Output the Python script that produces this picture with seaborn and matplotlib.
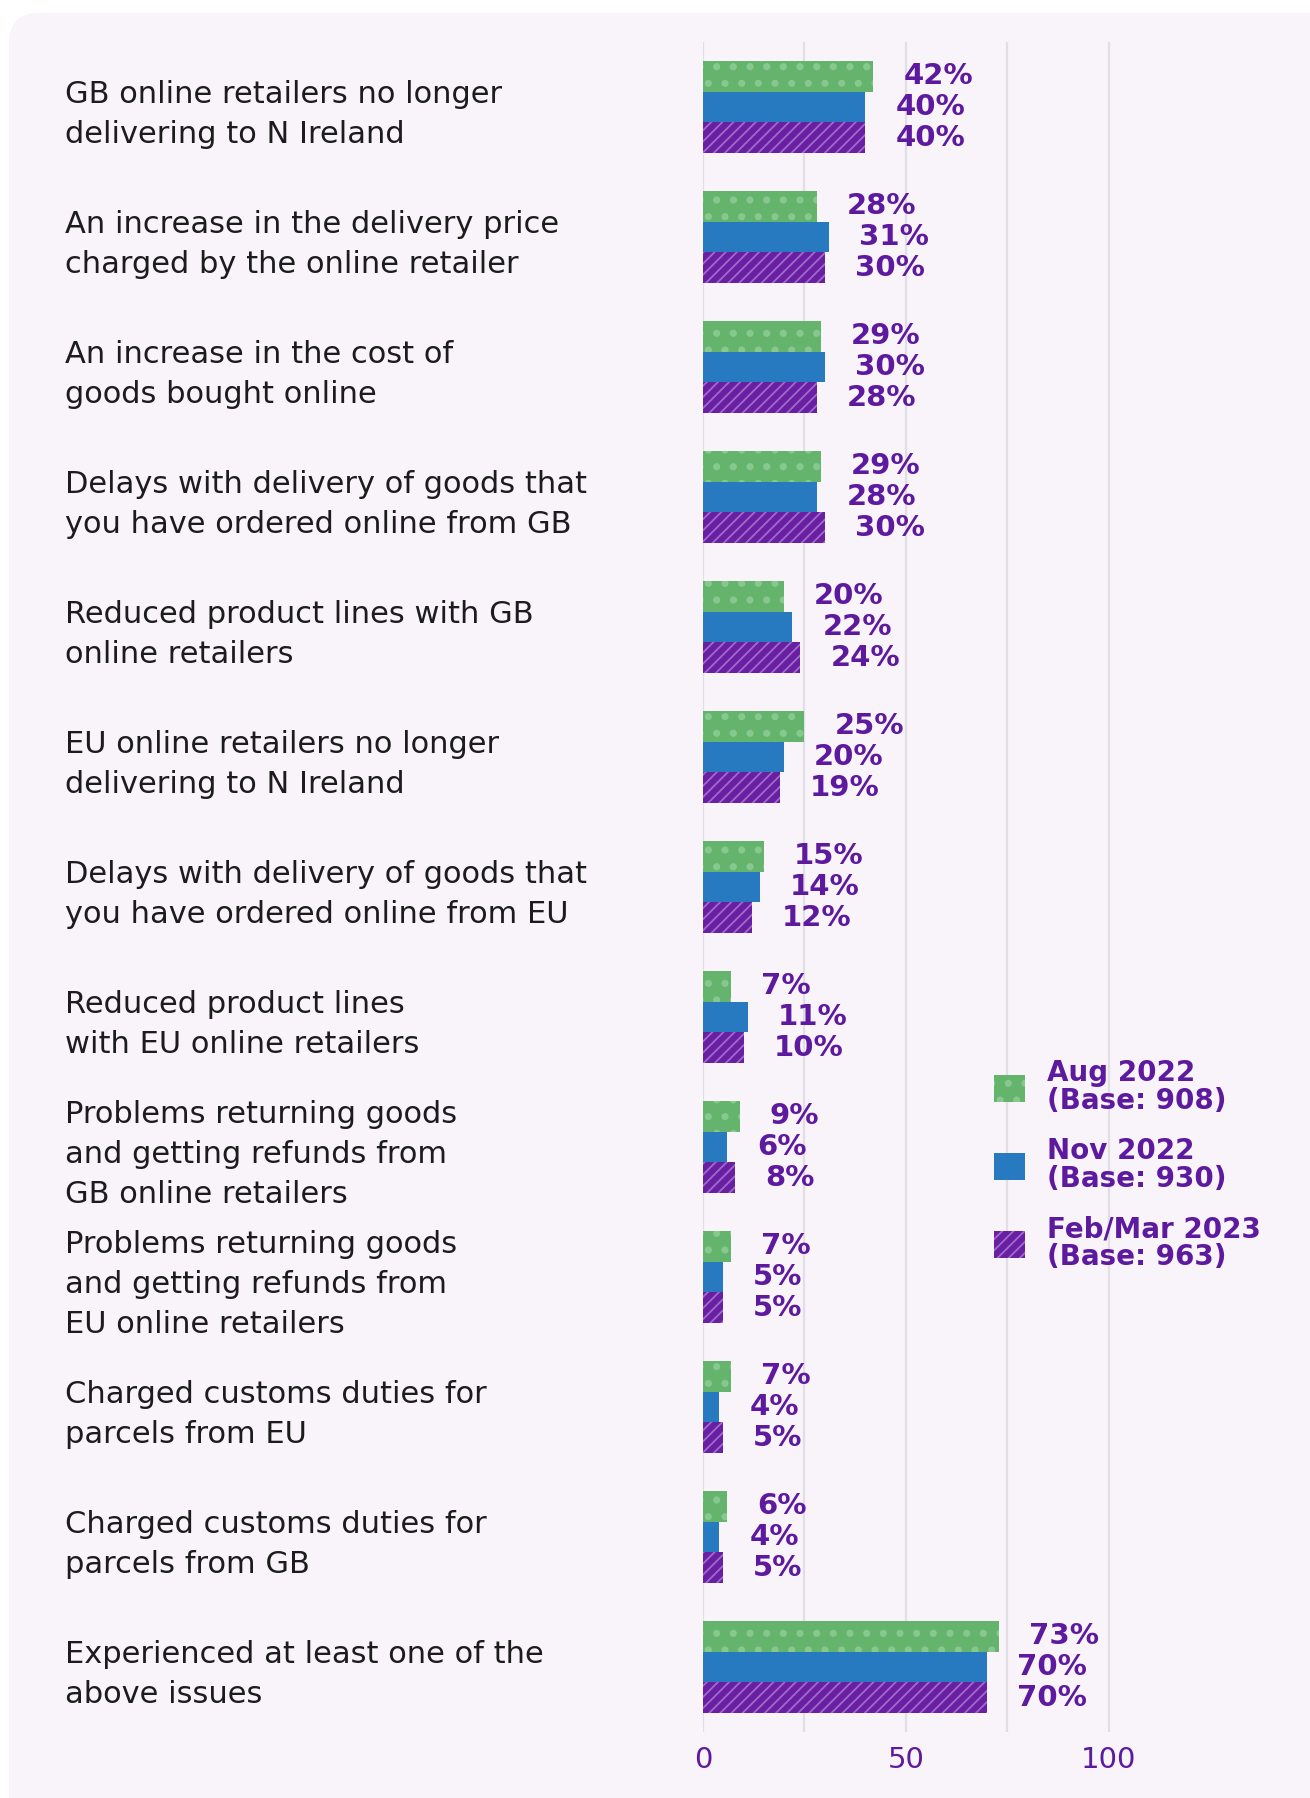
import matplotlib
matplotlib.use("Agg")
import matplotlib.pyplot as plt
import matplotlib.transforms as mtransforms
from matplotlib import hatch as mhatch
from matplotlib.patches import FancyBboxPatch, Patch
import seaborn as sns
import pandas as pd

# ---- data -------------------------------------------------------------
categories = [
    "GB online retailers no longer\ndelivering to N Ireland",
    "An increase in the delivery price\ncharged by the online retailer",
    "An increase in the cost of\ngoods bought online",
    "Delays with delivery of goods that\nyou have ordered online from GB",
    "Reduced product lines with GB\nonline retailers",
    "EU online retailers no longer\ndelivering to N Ireland",
    "Delays with delivery of goods that\nyou have ordered online from EU",
    "Reduced product lines\nwith EU online retailers",
    "Problems returning goods\nand getting refunds from\nGB online retailers",
    "Problems returning goods\nand getting refunds from\nEU online retailers",
    "Charged customs duties for\nparcels from EU",
    "Charged customs duties for\nparcels from GB",
    "Experienced at least one of the\nabove issues",
]
aug_2022 = [42, 28, 29, 29, 20, 25, 15, 7, 9, 7, 7, 6, 73]
nov_2022 = [40, 31, 30, 28, 22, 20, 14, 11, 6, 5, 4, 4, 70]
feb_mar_2023 = [40, 30, 28, 30, 24, 19, 12, 10, 8, 5, 5, 5, 70]
waves = ["Aug 2022\n(Base: 908)", "Nov 2022\n(Base: 930)", "Feb/Mar 2023\n(Base: 963)"]
x_ticks = [0, 50, 100]

# ---- styling ----------------------------------------------------------
W, H = 1310, 1798
DPI = 100
BG = "#f8f4fa"
PURPLE_TXT = "#5e1a9e"
GREEN, GREEN_DOT = "#64b46e", "#86c88d"
BLUE = "#2779c0"
PURPLE, PURPLE_LINE = "#6a1fa2", "#9c6ccb"
GRID = "#e2dee5"

sns.set_theme(style="white")
plt.rcParams["font.family"] = ["DejaVu Sans"]
plt.rcParams["hatch.linewidth"] = 1.3
# slightly larger polka dots for the "." hatch
mhatch.SmallFilledCircles.size = 0.16

df = pd.DataFrame({
    "category": categories * 3,
    "value": aug_2022 + nov_2022 + feb_mar_2023,
    "wave": [waves[0]] * len(categories) + [waves[1]] * len(categories) + [waves[2]] * len(categories),
})

fig = plt.figure(figsize=(W / DPI, H / DPI), dpi=DPI)
fig.patch.set_facecolor("white")

# rounded card behind the chart (pixel coordinates)
card = FancyBboxPatch((9, -60), 1340, H - 13 + 60,
                      boxstyle="round,pad=0,rounding_size=30",
                      transform=mtransforms.IdentityTransform(),
                      facecolor=BG, edgecolor="none", zorder=-10)
fig.patches.append(card)

ax_left, ax_right = 703, 1251
ax_top, ax_bot = 42, 1732
ax = fig.add_axes([ax_left / W, 1 - ax_bot / H, (ax_right - ax_left) / W, (ax_bot - ax_top) / H])
ax.set_facecolor("none")
ax.set_zorder(1)

sns.barplot(data=df, y="category", x="value", hue="wave", orient="h",
            palette=[GREEN, BLUE, PURPLE], width=0.71, ax=ax, legend=False,
            saturation=1, zorder=3)

fills = [(GREEN, GREEN_DOT, "."), (BLUE, BLUE, ""), (PURPLE, PURPLE_LINE, "///")]
for cont, (fc, hc, hatch) in zip(ax.containers, fills):
    for bar in cont:
        bar.set_facecolor(fc)
        bar.set_edgecolor(hc)
        bar.set_linewidth(0)
        bar.set_hatch(hatch)

# value labels
for cont, vals in zip(ax.containers, [aug_2022, nov_2022, feb_mar_2023]):
    for bar, v in zip(cont, vals):
        y = bar.get_y() + bar.get_height() / 2
        off = mtransforms.offset_copy(ax.transData, fig=fig, x=30, y=0, units="dots")
        ax.text(v, y, f"{v}%", transform=off, ha="left", va="center",
                fontsize=21, fontweight="bold", color=PURPLE_TXT, zorder=5)

ax.set_xlim(0, 135)
ax.set_ylim(len(categories) - 0.5, -0.5)
ax.set_xticks(x_ticks)
ax.set_xticks([25, 75], minor=True)
ax.set_xticklabels([str(t) for t in x_ticks])
ax.tick_params(axis="x", which="both", length=0, pad=10, labelsize=21, labelcolor=PURPLE_TXT)
ax.tick_params(axis="y", length=0)
ax.set_yticklabels([])
ax.set_xlabel("")
ax.set_ylabel("")
ax.grid(axis="x", which="both", color=GRID, linewidth=1.6, zorder=0)
ax.grid(axis="y", visible=False)
ax.set_axisbelow(True)
for s in ax.spines.values():
    s.set_visible(False)

# category labels at the left of the card
lab_tr = mtransforms.blended_transform_factory(fig.transFigure, ax.transData)
for i, cat in enumerate(categories):
    ax.text(65 / W, i + 0.06, cat, transform=lab_tr, ha="left", va="center",
            fontsize=22, color="#1c1c1c", linespacing=1.47, clip_on=False)

# legend
handles = [Patch(facecolor=fc, edgecolor=hc, hatch=h, linewidth=0) for fc, hc, h in fills]
leg = ax.legend(handles, waves, loc="center left", bbox_to_anchor=(994 / W, 1 - 1165 / H),
                bbox_transform=fig.transFigure, frameon=False, borderpad=0, borderaxespad=0,
                handlelength=1.12, handleheight=1.12, handletextpad=0.8, labelspacing=0.8,
                prop={"size": 20, "weight": "bold"})
for t in leg.get_texts():
    t.set_color(PURPLE_TXT)
    t.set_linespacing(1.0)

fig.savefig("out.png", dpi=DPI, facecolor=fig.get_facecolor())
